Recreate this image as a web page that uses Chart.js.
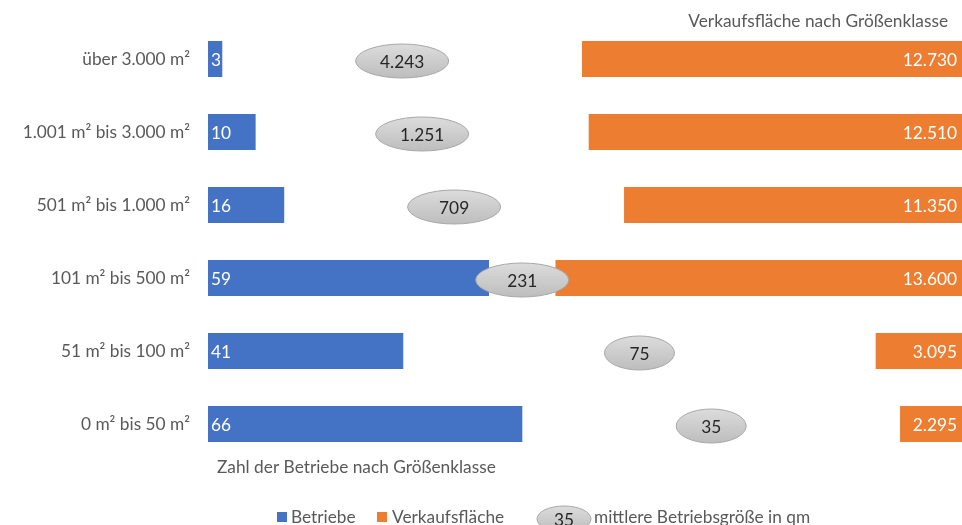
<!DOCTYPE html>
<html><head><meta charset="utf-8">
<script src="https://cdn.jsdelivr.net/npm/chart.js@4/dist/chart.umd.min.js"></script>
<style>html,body{margin:0;padding:0;overflow:hidden;background:#fff;width:962px;height:525px}</style>
</head><body>
<canvas id="c" width="980" height="525"></canvas>
<script>
const categories = ['über 3.000 m²','1.001 m² bis 3.000 m²','501 m² bis 1.000 m²','101 m² bis 500 m²','51 m² bis 100 m²','0 m² bis 50 m²'];
const betriebe = [3,10,16,59,41,66];
const verkaufsflaeche = [12730,12510,11350,13600,3095,2295];
const mittlereGroesse = [4243,1251,709,231,75,35];
const titleTop = 'Verkaufsfläche nach Größenklasse';
const titleBottom = 'Zahl der Betriebe nach Größenklasse';
const legendLabels = ['Betriebe','Verkaufsfläche','mittlere Betriebsgröße in qm'];

const BLUE = '#4472C4', ORANGE = '#ED7D31', GREY = '#595959';
const FONT = 'Lato, "Open Sans", sans-serif';
const FS = 17.3;
const fmt = v => v.toLocaleString('de-DE');

function ellipse(ctx, cx, cy, w, h, txt) {
  ctx.save();
  const g = ctx.createLinearGradient(0, cy - h/2, 0, cy + h/2);
  g.addColorStop(0, '#dcdcdc');
  g.addColorStop(1, '#bdbdbd');
  ctx.beginPath();
  ctx.ellipse(cx, cy, w/2, h/2, 0, 0, Math.PI*2);
  ctx.fillStyle = g; ctx.fill();
  ctx.lineWidth = 1; ctx.strokeStyle = '#a8a8a8'; ctx.stroke();
  ctx.fillStyle = '#262626';
  ctx.font = FS + 'px ' + FONT;
  ctx.textAlign = 'center'; ctx.textBaseline = 'middle';
  ctx.fillText(txt, cx, cy + 1);
  ctx.restore();
}

const deco = {
  id: 'deco',
  afterDatasetsDraw(chart) {
    const ctx = chart.ctx, a = chart.chartArea;
    const ys = chart.scales.y, xb = chart.scales.x, xo = chart.scales.x2;
    ctx.save();
    ctx.font = FS + 'px ' + FONT;
    ctx.textBaseline = 'middle';
    ctx.fillStyle = GREY; ctx.textAlign = 'right';
    categories.forEach((c, i) => ctx.fillText(c, a.left - 18, ys.getPixelForValue(i)));
    ctx.fillStyle = '#fff';
    chart.getDatasetMeta(0).data.forEach((el, i) => {
      ctx.textAlign = 'left'; ctx.fillText(fmt(betriebe[i]), el.base + 3, el.y + 1);
    });
    chart.getDatasetMeta(1).data.forEach((el, i) => {
      ctx.textAlign = 'right'; ctx.fillText(fmt(verkaufsflaeche[i]), el.base - 13, el.y + 1);
    });
    mittlereGroesse.forEach((v, i) => {
      const l = xb.getPixelForValue(betriebe[i]);
      const r = xo.getPixelForValue(verkaufsflaeche[i]);
      const t = fmt(v);
      ellipse(ctx, (l + r) / 2, ys.getPixelForValue(i) + 2, t.length >= 3 ? 93 : 70, 34, t);
    });
    ctx.fillStyle = GREY;
    ctx.textAlign = 'right'; ctx.fillText(titleTop, a.right - 22, 21);
    ctx.textAlign = 'left'; ctx.fillText(titleBottom, a.left + 9, 467);
    let x = 277; const ly = 517;
    ctx.fillStyle = BLUE; ctx.fillRect(x, ly - 5, 10, 10);
    ctx.fillStyle = GREY; ctx.fillText(legendLabels[0], x + 14, ly);
    x = 377;
    ctx.fillStyle = ORANGE; ctx.fillRect(x, ly - 5, 10, 10);
    ctx.fillStyle = GREY; ctx.fillText(legendLabels[1], x + 15, ly);
    ellipse(ctx, 564, ly + 2, 54, 26, fmt(mittlereGroesse[5]));
    ctx.fillStyle = GREY; ctx.textAlign = 'left'; ctx.font = FS + 'px ' + FONT;
    ctx.fillText(legendLabels[2], 594, ly);
    ctx.restore();
  }
};

new Chart(document.getElementById('c'), {
  type: 'bar',
  data: {
    labels: categories,
    datasets: [
      { label: legendLabels[0], data: betriebe, backgroundColor: BLUE, xAxisID: 'x', grouped: false, barPercentage: 0.49, categoryPercentage: 1 },
      { label: legendLabels[1], data: verkaufsflaeche, backgroundColor: ORANGE, xAxisID: 'x2', grouped: false, barPercentage: 0.49, categoryPercentage: 1 }
    ]
  },
  options: {
    indexAxis: 'y',
    responsive: false,
    animation: false,
    layout: { padding: { left: 208, right: 10, top: 22.5, bottom: 64.5 } },
    plugins: { legend: { display: false }, tooltip: { enabled: false } },
    scales: {
      y: { display: false, grid: { display: false } },
      x: { display: false, min: 0, max: 160 },
      x2: { display: false, min: 0, max: 25000, reverse: true }
    }
  },
  plugins: [deco]
});
</script>
</body></html>
